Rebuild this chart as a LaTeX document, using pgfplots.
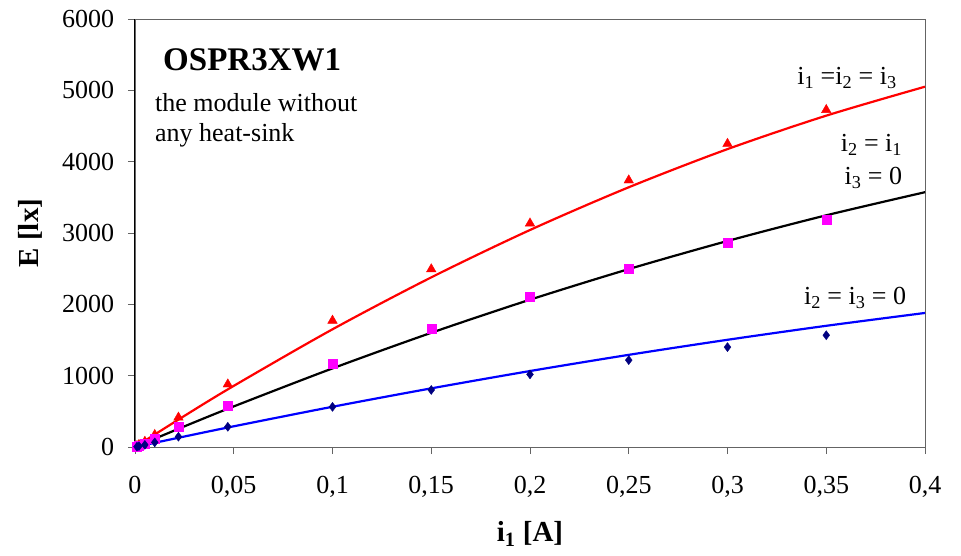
\documentclass[border=0pt]{standalone}
\usepackage{pgfplots}
\pgfplotsset{compat=1.18}
\usepackage{fontspec}
\setmainfont{Liberation Serif}
\definecolor{navyd}{RGB}{0,0,128}
\definecolor{magp}{RGB}{255,0,255}
\definecolor{redp}{RGB}{255,0,0}
\definecolor{bluep}{RGB}{0,0,255}
\definecolor{axgray}{RGB}{100,100,100}
\begin{document}
\fontsize{26bp}{30bp}\selectfont
\begin{tikzpicture}
\useasboundingbox (-135bp,-109bp) rectangle (826bp,447bp);
\begin{axis}[
  at={(0,0)}, anchor=south west,
  scale only axis,
  width=790bp, height=428bp,
  xmin=0, xmax=0.4, ymin=0, ymax=6000,
  xtick={0,0.05,0.1,0.15,0.2,0.25,0.3,0.35,0.4},
  xticklabels={0,{0,05},{0,1},{0,15},{0,2},{0,25},{0,3},{0,35},{0,4}},
  ytick={0,1000,2000,3000,4000,5000,6000},
  yticklabels={0,1000,2000,3000,4000,5000,6000},
  tick align=outside, xtick pos=left, ytick pos=left,
  major tick length=7bp,
  tick style={axgray, line width=0.8bp},
  axis line style={axgray, line width=0.9bp},
  ticklabel style={font=\fontsize{26bp}{30bp}\selectfont},
  xticklabel style={yshift=-13bp},
  yticklabel style={xshift=-5bp},
  xlabel={\textbf{i\textsubscript{1} [A]}},
  ylabel={\textbf{E [lx]}},
  label style={font=\fontsize{29bp}{33bp}\selectfont},
  xlabel style={yshift=-7bp},
  ylabel style={yshift=2bp},
  clip=false,
]
\draw[black, line width=1bp] (rel axis cs:0,0) -- (rel axis cs:0,1);
% fitted curves
\addplot[redp, line width=2.2bp, smooth] coordinates {
(0,0) (0.025,436) (0.05,857) (0.1,1650) (0.15,2378) (0.2,3042) (0.25,3641) (0.3,4176) (0.35,4645) (0.4,5051)};
\addplot[black, line width=2.2bp, smooth] coordinates {
(0,0) (0.025,289) (0.05,569) (0.1,1102) (0.15,1601) (0.2,2065) (0.25,2494) (0.3,2888) (0.35,3248) (0.4,3572)};
\addplot[bluep, line width=2.2bp, smooth] coordinates {
(0,0) (0.025,147) (0.05,290) (0.1,564) (0.15,822) (0.2,1065) (0.25,1292) (0.3,1503) (0.35,1699) (0.4,1879)};
% measured points
\addplot[only marks, mark=triangle*, mark size=5.5bp, redp, mark options={fill=redp, draw=redp}] coordinates {
(0.001,15) (0.002,30) (0.005,75) (0.01,170) (0.022,414) (0.047,879) (0.1,1772) (0.15,2493) (0.2,3135) (0.25,3739) (0.3,4251) (0.35,4726)};
\addplot[only marks, mark=square*, mark size=4.5bp, magp, mark options={fill=magp, draw=magp}] coordinates {
(0.001,10) (0.002,20) (0.005,50) (0.01,112) (0.022,283) (0.047,586) (0.1,1168) (0.15,1656) (0.2,2102) (0.25,2497) (0.3,2870) (0.35,3191)};
\addplot[only marks, mark=diamond*, mark size=4.5bp, navyd, mark options={fill=navyd, draw=navyd}] coordinates {
(0.001,5) (0.002,12) (0.005,30) (0.01,65) (0.022,144) (0.047,283) (0.1,563) (0.15,800) (0.2,1018) (0.25,1218) (0.3,1400) (0.35,1567)};
% annotations
\node[anchor=west, inner sep=0pt, font=\fontsize{33bp}{36bp}\selectfont\bfseries] at (axis cs:0.0142,5425) {OSPR3XW1};
\node[anchor=west, inner sep=0pt] at (axis cs:0.0101,4823) {the module without};
\node[anchor=west, inner sep=0pt] at (axis cs:0.0101,4374) {any heat-sink};
\node[inner sep=0pt] at (axis cs:0.3605,5173) {i\textsubscript{1} =i\textsubscript{2} = i\textsubscript{3}};
\node[anchor=east, inner sep=0pt] at (axis cs:0.3885,4234) {i\textsubscript{2} = i\textsubscript{1}};
\node[anchor=east, inner sep=0pt] at (axis cs:0.3885,3771) {i\textsubscript{3} = 0};
\node[inner sep=0pt] at (axis cs:0.3646,2089) {i\textsubscript{2} = i\textsubscript{3} = 0};
\end{axis}
\end{tikzpicture}
\end{document}
